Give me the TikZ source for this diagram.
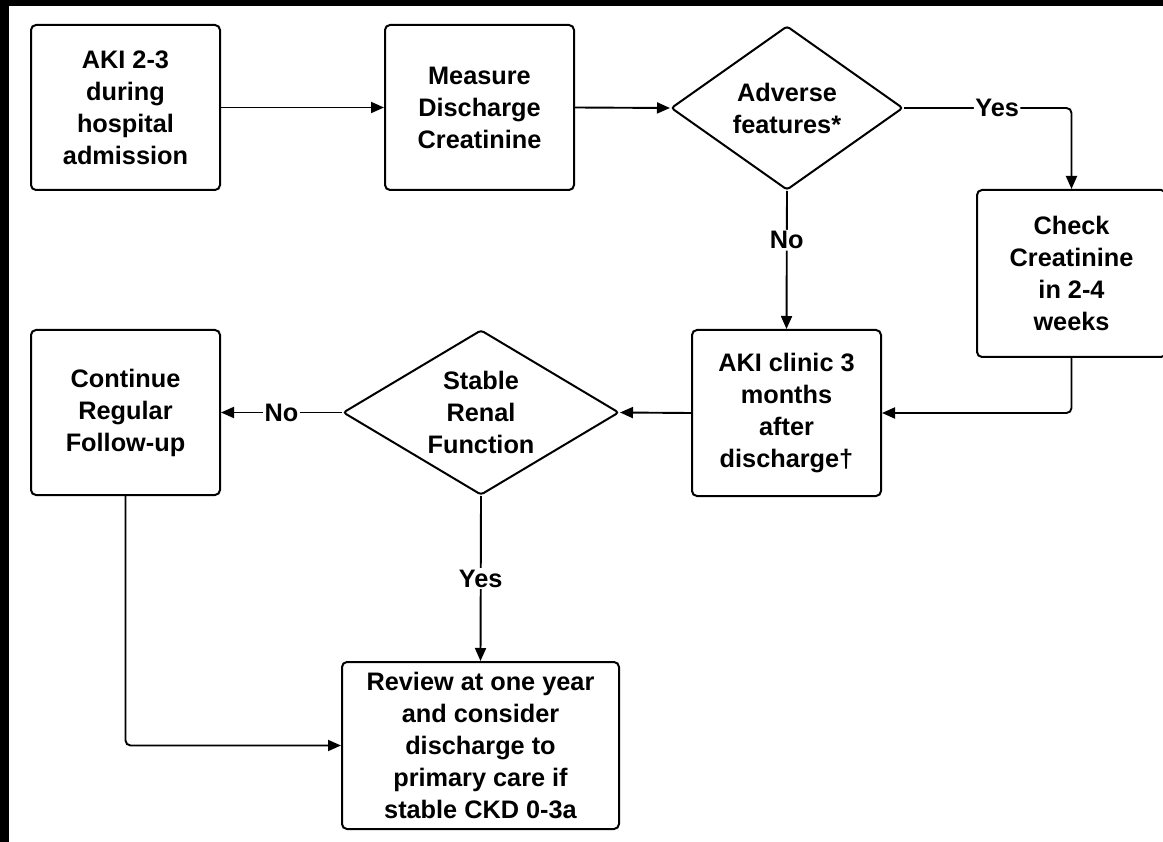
\documentclass[tikz,border=0pt]{standalone}
\usepackage{fontspec}
\setmainfont{Liberation Sans}
\usetikzlibrary{arrows.meta,shapes.geometric}
\tikzset{
  txt/.style={font=\fontsize{25.3}{32}\selectfont\bfseries, align=center},
  procbox/.style={txt, draw, line width=2pt, rounded corners=5pt, inner sep=0pt, minimum width=189pt, minimum height=165pt, fill=white},
  decbox/.style={txt, draw, diamond, line width=2pt, rounded corners=3pt, inner sep=0pt, fill=white},
  conn/.style={line width=1.9pt, -{Triangle[length=13pt,width=11pt]}, rounded corners=5pt},
  lab/.style={font=\fontsize{25.3}{32}\selectfont\bfseries, fill=white, inner sep=1.5pt}
}
\begin{document}
\begin{tikzpicture}[x=1pt,y=-1pt]
\useasboundingbox (0,0) rectangle (1163,842);
\clip (0,0) rectangle (1163,842);
\fill[white] (0,0) rectangle (1163,842);
\fill[black] (0,0) rectangle (9,842);
\fill[black] (0,0) rectangle (1163,6);

\node[procbox] (A) at (125.5,107.5) {AKI 2-3\\during\\hospital\\admission};
\node[procbox] (B) at (479.5,107.5) {Measure\\Discharge\\Creatinine};
\node[decbox, aspect=1.415, minimum width=232pt, minimum height=164pt] (C) at (787,108) {Adverse\\features*};
\node[procbox, minimum height=167pt] (D) at (1071.5,273.5) {Check\\Creatinine\\in 2-4\\weeks};
\node[procbox, minimum height=166pt] (E) at (786.5,413) {AKI clinic 3\\months\\after\\discharge†};
\node[decbox, aspect=1.67, minimum width=276pt, minimum height=165pt] (F) at (481,412.5) {Stable\\Renal\\Function};
\node[procbox] (G) at (125.5,412.5) {Continue\\Regular\\Follow-up};
\node[procbox, minimum width=277pt, minimum height=167pt] (H) at (480.5,745.5) {Review at one year\\and consider\\discharge to\\primary care if\\stable CKD 0-3a};

\draw[conn] (A.east) -- (B.west);
\draw[conn] (B.east) -- (C.west);
\draw[conn] (C.east) -| node[lab, pos=0.278] {Yes} (D.north);
\draw[conn] (C.south) -- node[lab, pos=0.357] {No} (E.north);
\draw[conn] (D.south) |- (E.east);
\draw[conn] (E.west) -- (F.east);
\draw[conn] (F.west) -- node[lab, pos=0.5] {No} (G.east);
\draw[conn] (F.south) -- node[lab, pos=0.5] {Yes} (H.north);
\draw[conn] (G.south) |- (H.west);
\end{tikzpicture}
\end{document}
